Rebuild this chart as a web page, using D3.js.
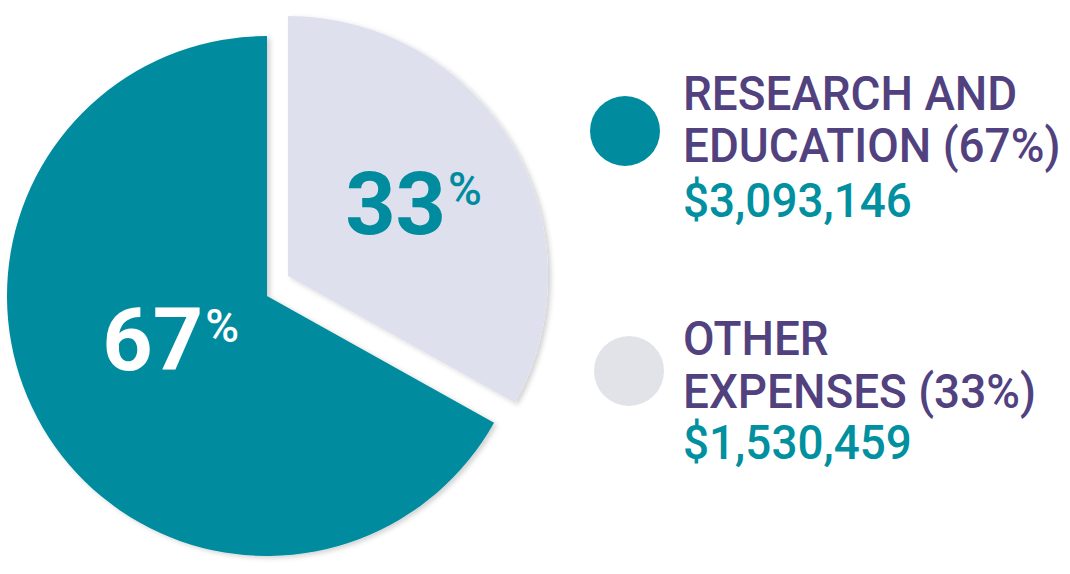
<!DOCTYPE html>
<html>
<head>
<meta charset="utf-8">
<script src="https://cdn.jsdelivr.net/npm/d3@7"></script>
<style>
  html, body { margin: 0; padding: 0; background: #ffffff; }
  svg { display: block; }
</style>
</head>
<body>
<svg id="chart" width="1070" height="574"></svg>
<script>
// ---- data ----
const categories = ["Research and Education", "Other Expenses"];
const labelLine1 = ["RESEARCH AND", "OTHER"];
const labelLine2 = ["EDUCATION", "EXPENSES"];
const amounts = [3093146, 1530459];
const sliceColors = ["#008c9e", "#dfe0ee"];
const legendDotColors = ["#008c9e", "#e2e3e9"];
const pctLabelColors = ["#ffffff", "#008c9e"];

// ---- layout ----
const W = 1070, H = 574;
const cx = 267, cy = 296, R = 260;
const explode = [[0, 0], [21, -20]];
const labelRadiusFactor = [0.86, 1.12];
const labelDy = ["0.2em", "0.36em"];
const svg = d3.select("#chart");

const defs = svg.append("defs");
const f = defs.append("filter").attr("id", "shadow")
  .attr("x", "-10%").attr("y", "-10%").attr("width", "125%").attr("height", "125%");
f.append("feDropShadow").attr("dx", 3).attr("dy", 2).attr("stdDeviation", 2.5)
  .attr("flood-color", "#000").attr("flood-opacity", 0.18);

const total = d3.sum(amounts);
const pct = amounts.map(v => Math.round(v / total * 100));

const pie = d3.pie().sort(null).value(d => d)
  .startAngle(2 * Math.PI).endAngle(0);
const arcs = pie(amounts);

const arc = d3.arc().innerRadius(0).outerRadius(R);

const g = svg.append("g").attr("transform", `translate(${cx},${cy})`);

const slices = g.selectAll("g.slice").data(arcs).join("g")
  .attr("class", "slice")
  .attr("transform", (d, i) => `translate(${explode[i][0]},${explode[i][1]})`);

slices.append("path")
  .attr("d", arc)
  .attr("fill", (d, i) => sliceColors[i])
  .attr("filter", "url(#shadow)");

slices.each(function(d, i) {
  const labelArc = d3.arc().innerRadius(0).outerRadius(R * labelRadiusFactor[i]);
  const [x, y] = labelArc.centroid(d);
  const t = d3.select(this).append("text")
    .attr("x", x).attr("y", y)
    .attr("text-anchor", "middle")
    .attr("dy", labelDy[i])
    .attr("fill", pctLabelColors[i])
    .style("font-family", "Roboto, 'DejaVu Sans', sans-serif")
    .style("font-weight", 700)
    .style("font-size", "88px");
  t.append("tspan").text(pct[i]);
  t.append("tspan").text("%")
    .style("font-size", "46px").style("font-weight", 500)
    .attr("dx", 2)
    .attr("dy", "-0.62em");
});

// ---- legend ----
const legendTop = [0, 240];
const fmt = d3.format("$,");
const legend = svg.append("g").attr("class", "legend");
categories.forEach((c, i) => {
  const gy = legendTop[i];
  const lg = legend.append("g").attr("transform", `translate(0,${gy})`);
  lg.append("circle")
    .attr("cx", 625 + i * 4).attr("cy", 131).attr("r", 35)
    .attr("fill", legendDotColors[i]);
  const txt = (s, y, color, w) => lg.append("text")
    .attr("transform", `translate(683,${y}) scale(0.955,1)`)
    .attr("fill", color)
    .style("font-family", "Roboto, 'DejaVu Sans', sans-serif")
    .style("font-weight", w)
    .style("font-size", "48px")
    .text(s);
  txt(labelLine1[i], 110 + (i ? 5 : 0), "#51427f", 500);
  txt(`${labelLine2[i]} (${pct[i]}%)`, 162 + (i ? 6 : 0), "#51427f", 500);
  txt(fmt(amounts[i]), 217 + (i ? 2 : 0), "#00909f", 500);
});
</script>
</body>
</html>
